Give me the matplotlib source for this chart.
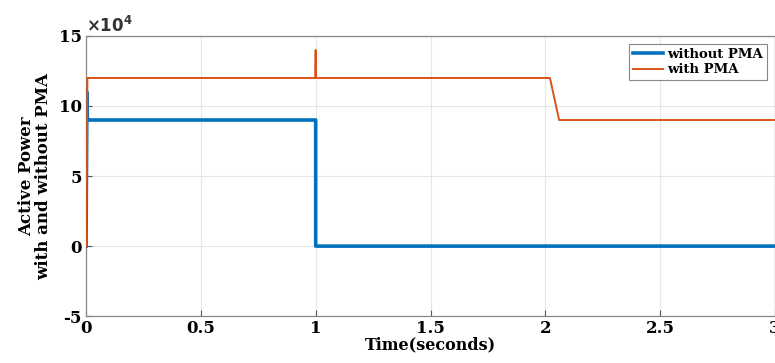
import matplotlib
matplotlib.use("Agg")
import matplotlib.pyplot as plt

# data (values in units of 1e4)
t_without = [0, 0.004, 0.006, 0.012, 1.0, 1.0, 3.0]
p_without = [0, 11, 9, 9, 9, 0, 0]
t_with = [0, 0.006, 0.012, 0.999, 1.0, 1.0, 1.001, 2.02, 2.06, 3.0]
p_with = [0, 12, 12, 12, 14, 12, 12, 12, 9, 9]
xticks = [0, 0.5, 1, 1.5, 2, 2.5, 3]
xticklabels = ["0", "0.5", "1", "1.5", "2", "2.5", "3"]
yticks = [-5, 0, 5, 10, 15]
yticklabels = ["-5", "0", "5", "10", "15"]

plt.rcParams['font.family'] = ['DejaVu Serif']
plt.rcParams['font.weight'] = 'bold'

fig = plt.figure(figsize=(7.75, 3.63), dpi=100)
ax = fig.add_axes([0.111, 0.129, 0.889, 0.772])

ax.plot(t_without, p_without, color='#0072BD', lw=2.6, label='without PMA', zorder=3)
ax.plot(t_with, p_with, color='#D95319', lw=1.4, label='with PMA', zorder=3)

ax.set_xlim(0, 3)
ax.set_ylim(-5, 15)
ax.set_xticks(xticks)
ax.set_xticklabels(xticklabels, fontsize=12, fontweight='bold')
ax.set_yticks(yticks)
ax.set_yticklabels(yticklabels, fontsize=12, fontweight='bold')
ax.grid(True, color='#e6e6e6', lw=0.8)
ax.tick_params(axis='x', direction='in', length=4, color='#555555', pad=3)
ax.tick_params(axis='y', direction='in', length=4, color='#555555', pad=3)
for s in ax.spines.values():
    s.set_color('#888888')
    s.set_linewidth(0.9)

ax.set_xlabel('Time(seconds)', fontsize=11.5, fontweight='bold', labelpad=-1)
ax.set_ylabel('Active Power\nwith and without PMA', fontsize=12, fontweight='bold', labelpad=5, linespacing=1.0)
ax.text(0.0, 1.0, r'$\times \mathbf{10^4}$', transform=ax.transAxes, fontsize=12, va='bottom', ha='left', color='#333333')

leg = ax.legend(loc='upper right', prop={'weight': 'bold', 'size': 9.5},
                fancybox=False, framealpha=1, edgecolor='#888888', handlelength=2.3,
                borderpad=0.3, labelspacing=0.2, handletextpad=0.3, borderaxespad=0.6)
leg.get_frame().set_linewidth(0.8)

fig.savefig('out.png', dpi=100)
